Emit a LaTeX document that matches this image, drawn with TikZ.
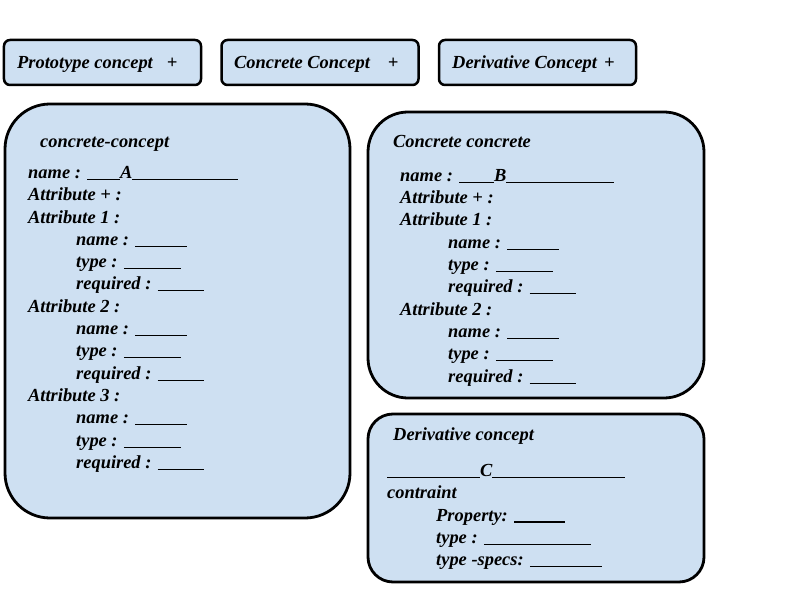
\documentclass[tikz,border=0pt]{standalone}
\usepackage{fontspec}
\setmainfont{Liberation Serif}
\usepackage{tikz}
\usetikzlibrary{positioning}
\definecolor{panelblue}{RGB}{206, 224, 242}
\newcommand{\blank}[1]{\rule[-1.5bp]{#1bp}{1.1bp}}

\begin{document}
\begin{tikzpicture}[
    x=1bp, y=-1bp,
    hand/.style={font=\fontsize{18.5}{22.4}\selectfont\bfseries\itshape, inner sep=0pt},
    tab/.style={draw, fill=panelblue, line width=2.5bp, rounded corners=6bp,
                minimum width=197bp, minimum height=45bp},
    panel/.style={draw, fill=panelblue, line width=2.8bp},
    body/.style={hand, align=left, anchor=north west},
  ]
    \useasboundingbox[fill=white] (0,0) rectangle (800,600);

    % Top buttons
    \node[tab] (protobtn) at (102.5,62.5) {};
    \node[tab] (concretebtn) at (320,62.5) {};
    \node[tab] (derivbtn) at (537.5,62.5) {};
    \node[hand, anchor=west] (protolbl) at (17,64) {Prototype concept\hspace{14bp}+};
    \node[hand, anchor=west] (concretelbl) at (234,64) {Concrete Concept\hspace{18bp}+};
    \node[hand, anchor=west] (derivlbl) at (452,64) {Derivative Concept\hspace{7bp}+};

    % Concept A
    \node[panel, rounded corners=45bp, minimum width=345bp, minimum height=414bp]
      (conceptA) at (177.5,311) {};
    \node[hand, anchor=west] (titleA) at (40,144) {concrete-concept};
    \node[body] (bodyA) at (28,166) {%
      name : \blank{33}A\blank{106}\\
      Attribute + :\\
      Attribute 1 :\\
      \hspace*{48bp}name : \blank{52}\\
      \hspace*{48bp}type : \blank{57}\\
      \hspace*{48bp}required : \blank{46}\\
      Attribute 2 :\\
      \hspace*{48bp}name : \blank{52}\\
      \hspace*{48bp}type : \blank{57}\\
      \hspace*{48bp}required : \blank{46}\\
      Attribute 3 :\\
      \hspace*{48bp}name : \blank{52}\\
      \hspace*{48bp}type : \blank{57}\\
      \hspace*{48bp}required : \blank{46}};

    % Concept B
    \node[panel, rounded corners=40bp, minimum width=336bp, minimum height=286bp]
      (conceptB) at (536,255) {};
    \node[hand, anchor=west] (titleB) at (393,141) {Concrete concrete};
    \node[body] (bodyB) at (400,169) {%
      name : \blank{35}B\blank{108}\\
      Attribute + :\\
      Attribute 1 :\\
      \hspace*{48bp}name : \blank{52}\\
      \hspace*{48bp}type : \blank{57}\\
      \hspace*{48bp}required : \blank{46}\\
      Attribute 2 :\\
      \hspace*{48bp}name : \blank{52}\\
      \hspace*{48bp}type : \blank{57}\\
      \hspace*{48bp}required : \blank{46}};

    % Derivative C
    \node[panel, rounded corners=25bp, minimum width=336bp, minimum height=168bp]
      (derivC) at (536,498) {};
    \node[hand, anchor=west] (titleC) at (393,436) {Derivative concept};
    \node[body] (bodyC) at (387,464) {%
      \blank{93}C\blank{132}\\
      contraint\\
      \hspace*{49bp}Property: \blank{51}\\
      \hspace*{49bp}type : \blank{107}\\
      \hspace*{49bp}type -specs: \blank{72}};
  \end{tikzpicture}
\end{document}
